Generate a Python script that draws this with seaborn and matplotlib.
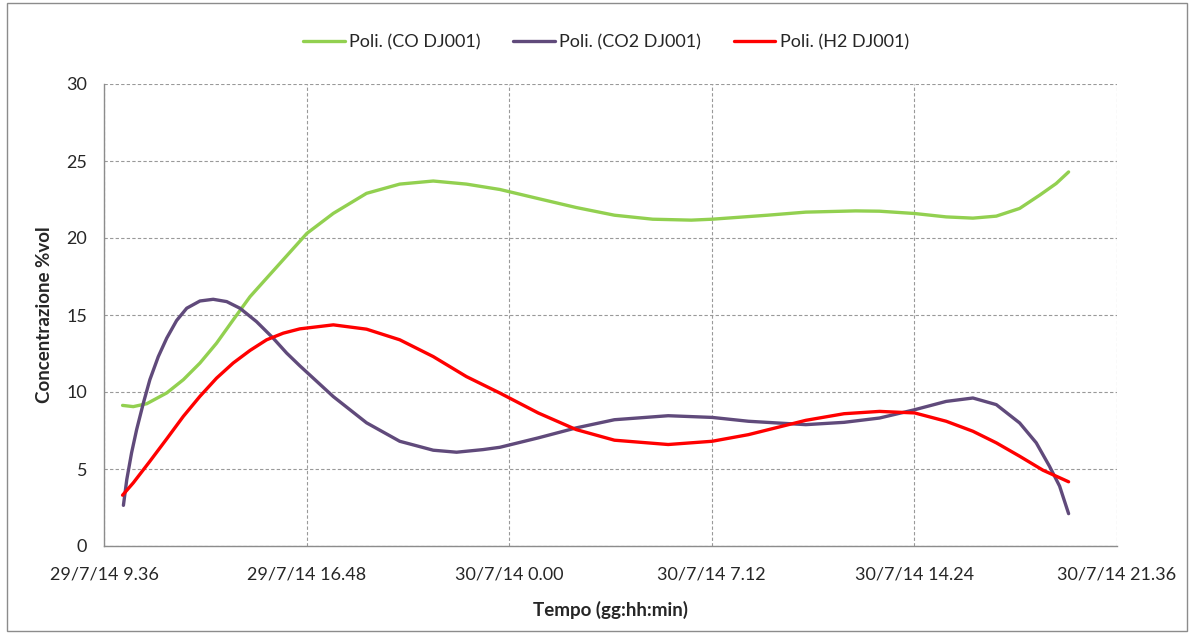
import matplotlib
matplotlib.use("Agg")
import matplotlib.pyplot as plt
import seaborn as sns
import pandas as pd
from matplotlib.patches import Rectangle

# time axis: hours since 29/7/14 00:00 ; values: % vol
co_t = [10.26, 10.64, 11.12, 11.83, 12.42, 13.01, 13.60, 14.19, 14.79, 15.32, 16.81, 17.75, 18.93, 20.11,
        21.30, 22.48, 23.67, 25.03, 26.38, 27.74, 29.10, 30.47, 31.21, 33.18, 34.54, 36.31, 37.16, 38.41,
        39.53, 40.48, 41.31, 42.14, 42.85, 43.44, 43.88]
co_v = [9.13, 9.05, 9.24, 9.94, 10.8, 11.88, 13.17, 14.68, 16.19, 17.27, 20.3, 21.6, 22.9, 23.5,
        23.7, 23.5, 23.15, 22.56, 21.98, 21.48, 21.22, 21.16, 21.22, 21.48, 21.68, 21.76, 21.74, 21.59,
        21.37, 21.29, 21.42, 21.92, 22.78, 23.54, 24.29]

co2_t = [10.29, 10.41, 10.58, 10.76, 11.00, 11.23, 11.53, 11.83, 12.18, 12.54, 13.01, 13.48, 13.96, 14.43,
         15.02, 15.61, 16.09, 16.56, 17.75, 18.93, 20.11, 21.30, 22.13, 23.07, 23.67, 25.03, 26.38, 27.74,
         29.65, 31.21, 32.50, 34.54, 35.90, 37.16, 38.41, 39.53, 40.48, 41.31, 42.14, 42.73, 43.20, 43.56,
         43.88]
co2_v = [2.64, 4.32, 6.05, 7.56, 9.29, 10.8, 12.3, 13.5, 14.64, 15.44, 15.91, 16.02, 15.87, 15.44,
         14.57, 13.5, 12.53, 11.7, 9.7, 8.0, 6.8, 6.22, 6.09, 6.26, 6.41, 7.02, 7.67, 8.2,
         8.46, 8.35, 8.1, 7.88, 8.03, 8.31, 8.85, 9.39, 9.61, 9.18, 7.99, 6.7, 5.18, 3.89,
         2.1]

h2_t = [10.26, 10.64, 11.23, 11.83, 12.42, 13.01, 13.60, 14.19, 14.79, 15.38, 15.97, 16.56, 17.75, 18.93,
        20.11, 21.30, 22.48, 23.67, 25.03, 26.38, 27.74, 29.65, 31.21, 32.50, 34.54, 35.90, 37.16, 38.41,
        39.53, 40.48, 41.31, 42.14, 42.97, 43.88]
h2_v = [3.3, 4.1, 5.5, 6.96, 8.42, 9.72, 10.9, 11.88, 12.7, 13.39, 13.82, 14.1, 14.36, 14.08,
        13.39, 12.3, 11.0, 9.93, 8.64, 7.56, 6.87, 6.59, 6.8, 7.23, 8.16, 8.59, 8.74, 8.64,
        8.1, 7.45, 6.7, 5.83, 4.92, 4.17]

series_names = ["Poli. (CO DJ001)", "Poli. (CO2 DJ001)", "Poli. (H2 DJ001)"]
colors = ["#92D050", "#604A7B", "#FF0000"]

tick_hours = [9.6, 16.8, 24.0, 31.2, 38.4, 45.6]
tick_labels = ["29/7/14 9.36", "29/7/14 16.48", "30/7/14 0.00", "30/7/14 7.12", "30/7/14 14.24", "30/7/14 21.36"]
y_ticks = [0, 5, 10, 15, 20, 25, 30]

df = pd.concat([
    pd.DataFrame({"t": co_t, "v": co_v, "s": series_names[0]}),
    pd.DataFrame({"t": co2_t, "v": co2_v, "s": series_names[1]}),
    pd.DataFrame({"t": h2_t, "v": h2_v, "s": series_names[2]}),
], ignore_index=True)

sns.set_style("white")
plt.rcParams["font.family"] = ["Lato", "DejaVu Sans"]

fig = plt.figure(figsize=(11.94, 6.33), dpi=100)
ax = fig.add_axes([104 / 1194, 1 - 546 / 633, (1117 - 104) / 1194, (546 - 84) / 633])

sns.lineplot(data=df, x="t", y="v", hue="s", palette=dict(zip(series_names, colors)),
             estimator=None, linewidth=2.4, ax=ax, legend=True)
for ln in ax.lines:
    ln.set_solid_capstyle("round")
    ln.set_solid_joinstyle("round")

ax.set_xlim(tick_hours[0], tick_hours[-1])
ax.set_ylim(0, 30)
ax.set_xticks(tick_hours)
ax.set_xticklabels(tick_labels, fontsize=13)
ax.set_yticks(y_ticks)
ax.set_yticklabels([str(v) for v in y_ticks], fontsize=13)
ax.grid(True, color="#999999", linestyle=(0, (3, 2)), linewidth=0.8)
for s in ["top", "right"]:
    ax.spines[s].set_visible(False)
for s in ["left", "bottom"]:
    ax.spines[s].set_color("#8c8c8c")
    ax.spines[s].set_linewidth(1.0)
ax.tick_params(axis="both", which="both", length=5, color="#8c8c8c", width=1, direction="out")
ax.tick_params(axis="x", pad=10)
ax.tick_params(axis="y", pad=7)
ax.set_xlabel("Tempo (gg:hh:min)", fontsize=13.5, fontweight="bold", labelpad=13)
ax.set_ylabel("Concentrazione %vol", fontsize=13.5, fontweight="bold", labelpad=10)

h, l = ax.get_legend_handles_labels()
ax.legend(h, l, loc="center", bbox_to_anchor=(606 / 1194, (633 - 42) / 633), bbox_transform=fig.transFigure,
          ncol=3, frameon=False, fontsize=13, handlelength=2.3, handletextpad=0.25, columnspacing=1.8)

fig.patches.append(Rectangle((7 / 1194, 2 / 633), 1180 / 1194, 628 / 633, transform=fig.transFigure,
                             fill=False, edgecolor="#8c8c8c", linewidth=1.0))

fig.savefig("out.png", dpi=100)
